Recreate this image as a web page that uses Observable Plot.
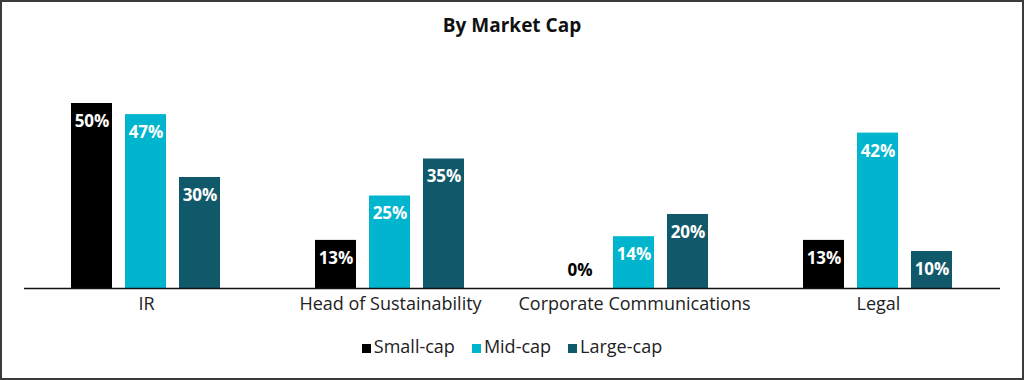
<!DOCTYPE html>
<html>
<head>
<meta charset="utf-8">
<script src="https://cdn.jsdelivr.net/npm/d3@7"></script>
<script src="https://cdn.jsdelivr.net/npm/@observablehq/plot@0.6"></script>
<style>
  html, body { margin: 0; padding: 0; background: #fff; }
  #wrap { position: relative; width: 1024px; height: 380px; overflow: hidden; font-family: "Open Sans", sans-serif; }
  #frame { position: absolute; left: 0; top: 0; width: 1024px; height: 380px; box-sizing: border-box; border: 2px solid #3a3a3a; pointer-events: none; }
  #title { position: absolute; left: 0; top: 12px; width: 1024px; text-align: center; font-weight: 700; font-size: 19px; color: #111; }
  #chart { position: absolute; left: 0; top: 50px; }
  #legend { position: absolute; left: 0; top: 334px; width: 1024px; display: flex; justify-content: center; gap: 17px; font-size: 18px; color: #222; }
  #legend span.item { display: flex; align-items: center; }
  #legend span.sw { display: inline-block; width: 9px; height: 9px; margin-right: 3px; margin-top: 4px; }
</style>
</head>
<body>
<div id="wrap">
  <div id="title">By Market Cap</div>
  <div id="chart"></div>
  <div id="legend"></div>
  <div id="frame"></div>
</div>
<script>
const categories = ["IR", "Head of Sustainability", "Corporate Communications", "Legal"];
const series = ["Small-cap", "Mid-cap", "Large-cap"];
const colors = ["#000000", "#00b5cd", "#10596a"];
const smallCap = [50, 13, 0, 13];
const midCap = [47, 25, 14, 42];
const largeCap = [30, 35, 20, 10];

const valuesBySeries = [smallCap, midCap, largeCap];
const data = [];
categories.forEach((c, i) => {
  series.forEach((s, j) => {
    data.push({category: c, series: s, value: valuesBySeries[j][i]});
  });
});

const chart = Plot.plot({
  width: 1024,
  height: 270,
  marginLeft: 22,
  marginRight: 23,
  marginTop: 53,
  marginBottom: 32,
  style: {fontFamily: "'Open Sans', sans-serif", background: "transparent"},
  fx: {domain: categories, padding: 0, label: null},
  x: {domain: series, axis: null, paddingInner: 0.236, paddingOuter: 0.84},
  y: {domain: [0, 50], axis: null},
  color: {domain: series, range: colors},
  marks: [
    Plot.barY(data, {fx: "category", x: "series", y: "value", fill: "series"}),
    Plot.ruleY([0], {stroke: "#111", strokeWidth: 1.5}),
    Plot.text(data, {
      fx: "category", x: "series", y: "value",
      text: d => d.value + "%",
      fill: "#ffffff",
      fontWeight: "bold", fontSize: 17,
      filter: d => d.value > 0,
      dy: 18
    }),
    Plot.text(data, {
      fx: "category", x: "series", y: "value",
      text: d => d.value + "%",
      fill: "#000000",
      fontWeight: "bold", fontSize: 17,
      filter: d => d.value === 0,
      dy: -18
    }),
    Plot.axisFx({anchor: "bottom", tickSize: 0, tickPadding: 9, fontSize: 18, label: null, fill: "#222"})
  ]
});
document.getElementById("chart").appendChild(chart);

const legend = document.getElementById("legend");
series.forEach((s, j) => {
  const item = document.createElement("span");
  item.className = "item";
  const sw = document.createElement("span");
  sw.className = "sw";
  sw.style.background = colors[j];
  item.appendChild(sw);
  item.appendChild(document.createTextNode(s));
  legend.appendChild(item);
});
</script>
</body>
</html>
